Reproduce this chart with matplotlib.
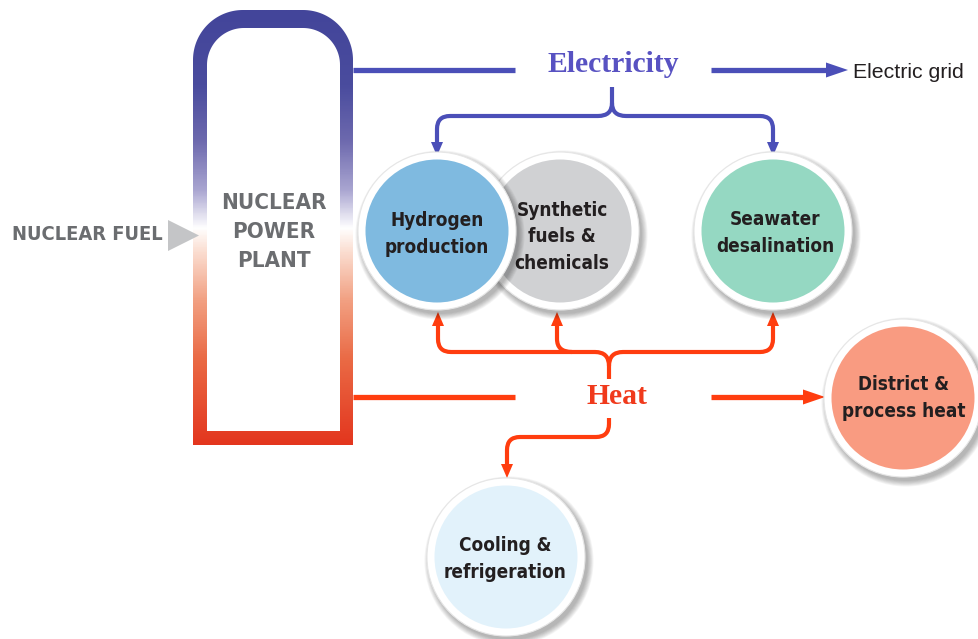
import numpy as np
import matplotlib
matplotlib.use("Agg")
import matplotlib.pyplot as plt
from matplotlib.path import Path
from matplotlib.patches import PathPatch, Circle, Polygon
from matplotlib.colors import LinearSegmentedColormap
from matplotlib import font_manager as fm

# ---------------- data (labels) ----------------
source_label = "NUCLEAR FUEL"
plant_label = ["NUCLEAR", "POWER", "PLANT"]
carriers = ["Electricity", "Heat"]
grid_label = "Electric grid"
node_labels = {
    "synthetic": ["Synthetic", "fuels &", "chemicals"],
    "hydrogen": ["Hydrogen", "production"],
    "seawater": ["Seawater", "desalination"],
    "district": ["District &", "process heat"],
    "cooling": ["Cooling &", "refrigeration"],
}

# ---------------- styles / layout ----------------
node_colors = {
    "synthetic": "#d0d1d3",
    "hydrogen": "#7fbae0",
    "seawater": "#95d8c2",
    "district": "#f99b81",
    "cooling": "#e2f2fb",
}
node_pos = {
    "synthetic": (560, 231),
    "hydrogen": (437, 231),
    "seawater": (773, 231),
    "district": (903, 398),
    "cooling": (506, 557),
}
text_offset = {
    "synthetic": (2, 6),
    "hydrogen": (0, 3),
    "seawater": (2, 2),
    "district": (1, 0),
    "cooling": (-1, 2),
}
R_IN, R_OUT = 71.5, 79
ELEC = "#4b4fb8"
HEAT = "#ff3d0f"
TXT = "#231f20"
GRAY = "#6b6d70"


def has_font(name):
    try:
        fm.findfont(fm.FontProperties(family=name), fallback_to_default=False)
        return True
    except Exception:
        return False


NARROW = "Liberation Sans Narrow" if has_font("Liberation Sans Narrow") else "DejaVu Sans"
NSTRETCH = "normal" if NARROW == "Liberation Sans Narrow" else "condensed"
NSCALE = 1.0 if NARROW == "Liberation Sans Narrow" else 0.8
SERIF = "Liberation Serif" if has_font("Liberation Serif") else "DejaVu Serif"
SANS = "Liberation Sans" if has_font("Liberation Sans") else "DejaVu Sans"

fig = plt.figure(figsize=(9.79, 6.39), dpi=100)
ax = fig.add_axes([0, 0, 1, 1])
ax.set_xlim(0, 979)
ax.set_ylim(639, 0)
ax.axis("off")


def rounded_top_rect(x0, x1, y0, y1, r, n=40):
    t = np.linspace(0, np.pi / 2, n)
    pts = [(x0, y1)]
    cx, cy = x0 + r, y0 + r
    pts += list(zip(cx - r * np.cos(t), cy - r * np.sin(t)))
    cx = x1 - r
    pts += list(zip(cx + r * np.sin(t), cy - r * np.cos(t)))
    pts += [(x1, y1), (x0, y1)]
    return Path(pts, closed=True)


# ---------------- plant with gradient outline ----------------
outer = PathPatch(rounded_top_rect(193, 353, 10, 445, 50), facecolor="none", edgecolor="none")
ax.add_patch(outer)
stops = [(10, "#43459a"), (85, "#4a4c9e"), (140, "#6d69ae"), (190, "#aaa6d1"),
         (228, "#ffffff"), (250, "#fbe0d4"), (300, "#f2a183"), (360, "#ea6a45"), (445, "#e3361e")]
cmap = LinearSegmentedColormap.from_list(
    "plant", [((y - 10) / 435, c) for y, c in stops])
grad = np.linspace(0, 1, 436)[:, None] * np.ones((1, 2))
img = ax.imshow(grad, cmap=cmap, extent=(193, 353, 445, 10), origin="upper",
                aspect="auto", interpolation="bilinear", zorder=1)
img.set_clip_path(outer)
ax.add_patch(PathPatch(rounded_top_rect(207, 340, 28, 431, 37), facecolor="white",
                       edgecolor="none", zorder=2))
ax.set_xlim(0, 979)
ax.set_ylim(639, 0)

for i, line in enumerate(plant_label):
    ax.text(274, 203 + 29 * i, line, ha="center", va="center", fontsize=20 * NSCALE,
            fontfamily=NARROW, fontstretch=NSTRETCH, fontweight="bold", color=GRAY, zorder=5)

# nuclear fuel
ax.text(12, 235, source_label, ha="left", va="center", fontsize=18 * NSCALE,
        fontfamily=NARROW, fontstretch=NSTRETCH, fontweight="bold", color=GRAY)
ax.add_patch(Polygon([(168, 220), (168, 251), (199, 235.5)], closed=True,
                     facecolor="#c4c5c7", edgecolor="none", zorder=3))


def head(tip, direction, length, hw, color):
    x, y = tip
    dx, dy = direction
    bx, by = x - dx * length, y - dy * length
    px, py = -dy, dx
    ax.add_patch(Polygon([(x, y), (bx + px * hw, by + py * hw), (bx - px * hw, by - py * hw)],
                         closed=True, facecolor=color, edgecolor="none", zorder=4))


def path_line(verts, codes, color, lw):
    ax.add_patch(PathPatch(Path(verts, codes), facecolor="none", edgecolor=color,
                           lw=lw, capstyle="butt", joinstyle="round", zorder=3))


M, L, C = Path.MOVETO, Path.LINETO, Path.CURVE3

# ---------------- electricity ----------------
ax.plot([353, 515], [70, 70], color=ELEC, lw=3.8, solid_capstyle="butt", zorder=3)
ax.plot([711, 830], [70, 70], color=ELEC, lw=3.8, solid_capstyle="butt", zorder=3)
head((848, 70), (1, 0), 22, 7.5, ELEC)
ax.text(613, 65, carriers[0], ha="center", va="center", fontsize=21.3, fontfamily=SERIF,
        fontweight="bold", color="#5852c2")
ax.text(853, 72, grid_label, ha="left", va="center", fontsize=15.3, fontfamily=SANS, color=TXT)

path_line([(612, 87), (612, 103), (612, 116), (598, 116), (450, 116), (437, 116), (437, 129), (437, 144)],
          [M, L, C, C, L, C, C, L], ELEC, 3)
path_line([(612, 103), (612, 116), (626, 116), (760, 116), (773, 116), (773, 129), (773, 144)],
          [M, C, C, L, C, C, L], ELEC, 3)
head((437, 156), (0, 1), 14, 6, ELEC)
head((773, 156), (0, 1), 14, 6, ELEC)

# ---------------- heat ----------------
ax.plot([353, 515], [397, 397], color=HEAT, lw=3.8, solid_capstyle="butt", zorder=3)
ax.plot([711, 806], [397, 397], color=HEAT, lw=3.8, solid_capstyle="butt", zorder=3)
head((825, 397), (1, 0), 22, 7.5, HEAT)
ax.text(617, 396, carriers[1], ha="center", va="center", fontsize=21.3, fontfamily=SERIF,
        fontweight="bold", color="#f03a1c")

path_line([(609, 379), (609, 366), (609, 352), (595, 352), (451, 352), (438, 352), (438, 339), (438, 325)],
          [M, L, C, C, L, C, C, L], HEAT, 3)
path_line([(609, 366), (609, 352), (623, 352), (760, 352), (773, 352), (773, 339), (773, 325)],
          [M, C, C, L, C, C, L], HEAT, 3)
path_line([(572, 352), (557, 352), (557, 339), (557, 325)], [M, C, C, L], HEAT, 3)
for x in (438, 557, 773):
    head((x, 312), (0, -1), 14, 6, HEAT)
path_line([(609, 418), (609, 424), (609, 437), (596, 437), (520, 437), (507, 437), (507, 450), (507, 465)],
          [M, L, C, C, L, C, C, L], HEAT, 3)
head((507, 478), (0, 1), 14, 6, HEAT)


# ---------------- nodes ----------------
def node(key, z):
    cx, cy = node_pos[key]
    for k in range(8):
        ax.add_patch(Circle((cx + 3, cy + 4), R_OUT + k * 0.8, facecolor="#000000",
                            edgecolor="none", alpha=0.04, zorder=z))
    ax.add_patch(Circle((cx, cy), R_OUT, facecolor="white", edgecolor="#e6e6e6", lw=0.8, zorder=z + 0.1))
    ax.add_patch(Circle((cx, cy), R_IN, facecolor=node_colors[key], edgecolor="none", zorder=z + 0.2))
    lines = node_labels[key]
    n = len(lines)
    ox, oy = text_offset[key]
    for i, s in enumerate(lines):
        ax.text(cx + ox, cy + oy + (i - (n - 1) / 2) * 26.5, s,
                ha="center", va="center", fontsize=17 * NSCALE, fontfamily=NARROW,
                fontstretch=NSTRETCH, fontweight="bold", color=TXT, zorder=z + 0.3)


node("synthetic", 6)
node("hydrogen", 7)
node("seawater", 6)
node("district", 6)
node("cooling", 6)

fig.savefig("out.png", dpi=100)
